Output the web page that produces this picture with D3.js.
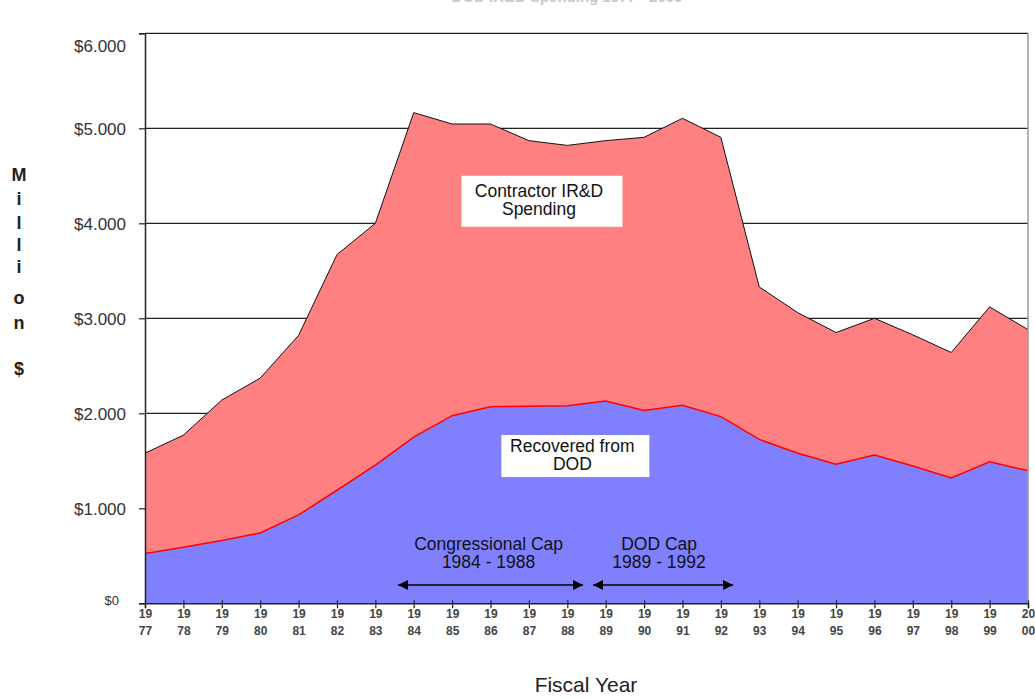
<!DOCTYPE html>
<html>
<head>
<meta charset="utf-8">
<script src="https://cdn.jsdelivr.net/npm/d3@7/dist/d3.min.js"></script>
<style>
  html, body { margin: 0; padding: 0; background: #fff; }
  svg { display: block; font-family: "Liberation Sans", Arial, sans-serif; }
</style>
</head>
<body>
<svg id="chart" width="1035" height="698"></svg>
<script>
// ---- data ----
const years = [1977, 1978, 1979, 1980, 1981, 1982, 1983, 1984, 1985, 1986, 1987, 1988,
               1989, 1990, 1991, 1992, 1993, 1994, 1995, 1996, 1997, 1998, 1999, 2000];
// Contractor IR&D spending (total), $ million
const contractorSpending = [1580, 1770, 2140, 2370, 2820, 3670, 4000, 5165, 5045, 5045, 4870, 4820,
                            4870, 4905, 5105, 4905, 3330, 3060, 2850, 3000, 2826, 2640, 3120, 2880];
// Recovered from DOD, $ million
const recoveredFromDOD = [525, 590, 660, 740, 930, 1190, 1455, 1750, 1975, 2070, 2075, 2080,
                          2130, 2030, 2085, 1965, 1725, 1580, 1465, 1560, 1445, 1320, 1490, 1395];
const yTicks = [0, 1000, 2000, 3000, 4000, 5000, 6000];
const yTitleLetters = ["M", "i", "l", "l", "i", "o", "n", "$"];
const capLabels = [
  { lines: ["Congressional Cap", "1984 - 1988"], from: 1983.59, to: 1988.41, textAt: 1985.95 },
  { lines: ["DOD Cap", "1989 - 1992"], from: 1988.67, to: 1992.32, textAt: 1990.39 }
];
const areaLabels = [
  { lines: ["Contractor IR&D", "Spending"], year: 1987.34, value: 4232 },
  { lines: ["Recovered from", "DOD"], year: 1988.21, value: 1550 }
];

(function () {
// ---- layout ----
const svg = d3.select("#chart");
const pL = 145, pR = 1028, pT = 33.3, pB = 603.3;
const x = d3.scaleLinear().domain([1977, 2000]).range([pL, pR]);
const y = d3.scaleLinear().domain([0, 6000]).range([pB, pT]);
const loc = d3.formatLocale({ decimal: ",", thousands: ".", grouping: [3], currency: ["$", ""] });
const fmt = loc.format("$,");

const rows = years.map((yr, i) => ({ yr, total: contractorSpending[i], rec: recoveredFromDOD[i] }));

// faint, cut-off title at the very top (only its lowest pixels show, as in the original)
svg.append("text").attr("x", 567).attr("y", 2).attr("text-anchor", "middle")
  .attr("font-size", 15).attr("font-weight", "bold").attr("fill", "#c8c8c8")
  .text("DOD IR&D Spending 1977 - 2000");

// gridlines
svg.append("g").selectAll("line").data(yTicks.filter(d => d > 0)).join("line")
  .attr("x1", pL).attr("x2", pR)
  .attr("y1", d => y(d)).attr("y2", d => y(d))
  .attr("stroke", "#222").attr("stroke-width", 1.3);

// areas
const areaTotal = d3.area().x(d => x(d.yr)).y0(y(0)).y1(d => y(d.total));
const areaRec = d3.area().x(d => x(d.yr)).y0(y(0)).y1(d => y(d.rec));
svg.append("path").datum(rows).attr("d", areaTotal).attr("fill", "#FF8080");
svg.append("path").datum(rows).attr("d", areaRec).attr("fill", "#8080FF");
svg.append("path").datum(rows)
  .attr("d", d3.line().x(d => x(d.yr)).y(d => y(d.total)))
  .attr("fill", "none").attr("stroke", "#111").attr("stroke-width", 1);
svg.append("path").datum(rows)
  .attr("d", d3.line().x(d => x(d.yr)).y(d => y(d.rec)))
  .attr("fill", "none").attr("stroke", "#FF0000").attr("stroke-width", 1.5);

// right border
svg.append("line").attr("x1", pR).attr("x2", pR).attr("y1", pT).attr("y2", pB)
  .attr("stroke", "#999").attr("stroke-width", 1.5);

// y axis
const yAxis = svg.append("g").attr("transform", `translate(${pL},0)`)
  .call(d3.axisLeft(y).tickValues(yTicks).tickFormat(fmt).tickSize(6).tickPadding(19));
yAxis.select(".domain").attr("stroke", "#222").attr("stroke-width", 1.5);
yAxis.selectAll(".tick line").attr("stroke", "#222").attr("stroke-width", 1.2);
yAxis.selectAll(".tick text")
  .attr("font-family", "'Liberation Sans', Arial, sans-serif")
  .attr("font-size", d => d === 0 ? 13 : 17)
  .attr("fill", "#333")
  .attr("dx", d => d === 0 ? -1 : 6)
  .attr("dy", d => d === 6000 ? "1.05em" : d === 0 ? "0.1em" : "0.35em");

// x axis
const xAxis = svg.append("g").attr("transform", `translate(0,${pB})`)
  .call(d3.axisBottom(x).tickValues(years).tickSize(5).tickFormat(""));
xAxis.select(".domain").attr("stroke", "#222").attr("stroke-width", 1.5);
xAxis.selectAll(".tick line").attr("stroke", "#222").attr("stroke-width", 1.2).attr("y1", -3);
const xl = xAxis.selectAll(".tick").append("text")
  .attr("text-anchor", "middle").attr("fill", "#444")
  .attr("font-size", 12).attr("font-weight", "bold");
xl.append("tspan").attr("x", 0).attr("y", 15).text(d => String(d).slice(0, 2));
xl.append("tspan").attr("x", 0).attr("y", 32).text(d => String(d).slice(2));

// axis titles
const yt = svg.append("text").attr("text-anchor", "middle").attr("font-size", 18)
  .attr("font-weight", "bold").attr("fill", "#222");
const yTitleY = [181, 205, 229, 251, 273, 304, 329, 375];
yTitleLetters.forEach((ch, i) => {
  yt.append("tspan").attr("x", 19).attr("y", yTitleY[i]).text(ch);
});
svg.append("text").attr("x", 586).attr("y", 692).attr("text-anchor", "middle")
  .attr("font-size", 21).attr("fill", "#222").text("Fiscal Year");

// area labels (white boxes)
const boxes = [
  { w: 161, h: 51 },
  { w: 148, h: 42 }
];
areaLabels.forEach((lab, i) => {
  const cx = x(lab.year), cy = y(lab.value);
  const b = boxes[i];
  svg.append("rect").attr("x", cx - b.w / 2).attr("y", cy - b.h / 2)
    .attr("width", b.w).attr("height", b.h).attr("fill", "#fff");
  const t = svg.append("text").attr("text-anchor", "middle").attr("font-size", 17.5).attr("fill", "#111");
  const gap = 18;
  lab.lines.forEach((ln, j) => {
    t.append("tspan").attr("x", cx - 3).attr("y", cy - gap / 2 + j * gap + 5).text(ln);
  });
});

// cap annotations with double arrows
const defs = svg.append("defs");
["arrS", "arrE"].forEach((id, k) => {
  defs.append("marker").attr("id", id).attr("viewBox", "0 0 10 10")
    .attr("refX", k === 0 ? 0 : 10).attr("refY", 5)
    .attr("markerWidth", 12).attr("markerHeight", 10).attr("markerUnits", "userSpaceOnUse")
    .attr("orient", "auto")
    .append("path").attr("d", k === 0 ? "M10,0 L0,5 L10,10 Z" : "M0,0 L10,5 L0,10 Z").attr("fill", "#000");
});
capLabels.forEach(c => {
  const x1 = x(c.from), x2 = x(c.to), cx = x(c.textAt);
  const t = svg.append("text").attr("text-anchor", "middle").attr("font-size", 17.5).attr("fill", "#111");
  c.lines.forEach((ln, j) => {
    t.append("tspan").attr("x", cx).attr("y", 550 + j * 18).text(ln);
  });
  svg.append("line").attr("x1", x1).attr("x2", x2).attr("y1", 585).attr("y2", 585)
    .attr("stroke", "#000").attr("stroke-width", 1.6)
    .attr("marker-start", "url(#arrS)").attr("marker-end", "url(#arrE)");
});
})();
</script>
</body>
</html>
